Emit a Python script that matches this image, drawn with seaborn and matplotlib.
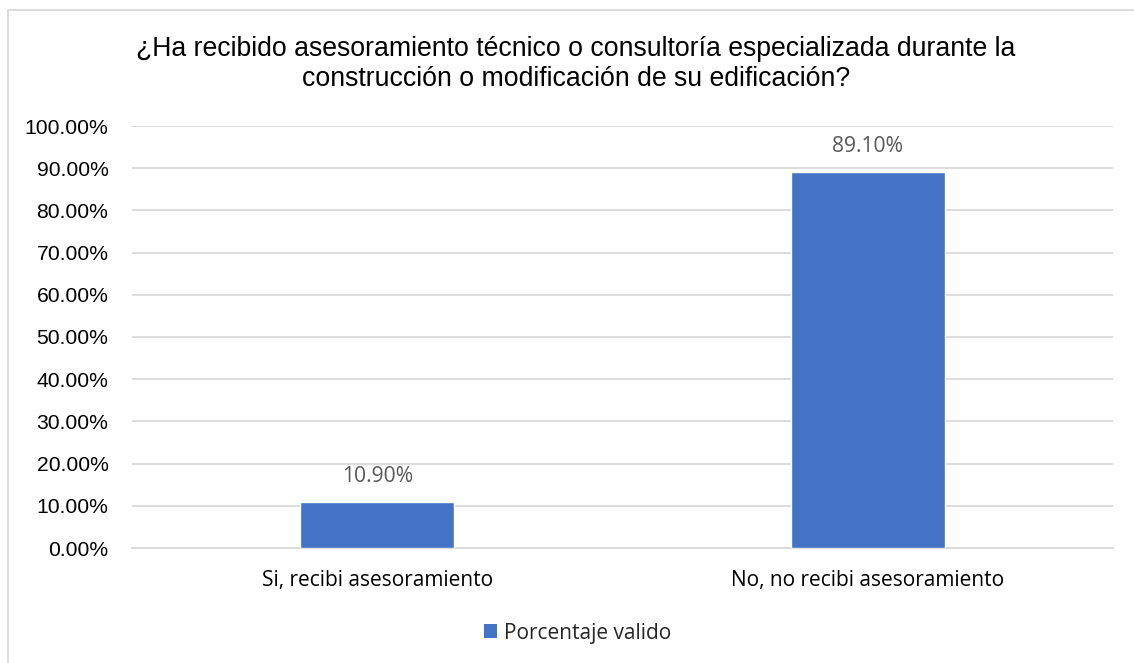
import matplotlib
matplotlib.use("Agg")
import matplotlib.pyplot as plt
import matplotlib.lines as mlines
from matplotlib.patches import Patch
from matplotlib.ticker import PercentFormatter, MultipleLocator
import pandas as pd
import seaborn as sns

categories = ["Si, recibi asesoramiento", "No, no recibi asesoramiento"]
values = [10.90, 89.10]
series_name = "Porcentaje valido"
title = ("¿Ha recibido asesoramiento técnico o consultoría especializada durante la\n"
         "construcción o modificación de su edificación?")

bar_color = "#4472C4"
grid_color = "#D9D9D9"
label_color = "#595959"

sns.set_theme(style="white")
plt.rcParams["font.family"] = ["Liberation Sans", "DejaVu Sans"]

df = pd.DataFrame({"categoria": categories, "valor": values})

fig = plt.figure(figsize=(11.34, 6.63), dpi=100)
ax = fig.add_axes([132 / 1134, 1 - 548 / 663, (1113 - 132) / 1134, (548 - 126) / 663])

sns.barplot(data=df, x="categoria", y="valor", color=bar_color, width=0.313,
            saturation=1, ax=ax, zorder=3)

ax.set_ylim(0, 100)
ax.yaxis.set_major_locator(MultipleLocator(10))
ax.yaxis.set_major_formatter(PercentFormatter(decimals=2))
ax.grid(axis="y", color=grid_color, linewidth=1.3, zorder=0)
ax.set_axisbelow(True)
for s in ["top", "right", "left"]:
    ax.spines[s].set_visible(False)
ax.spines["bottom"].set_color(grid_color)
ax.spines["bottom"].set_linewidth(1.3)
ax.set_xlabel("")
ax.set_ylabel("")
ax.tick_params(axis="y", length=0, pad=17, labelsize=15.2, labelcolor="black")
ax.tick_params(axis="x", length=0, pad=16)
for t in ax.get_xticklabels():
    t.set_fontfamily(["Open Sans", "DejaVu Sans"])
    t.set_fontsize(15)
    t.set_color("#000000")

for cont in ax.containers:
    ax.bar_label(cont, labels=[f"{v:.2f}%" for v in values], padding=11,
                 fontsize=15.2, color=label_color, family=["Open Sans", "DejaVu Sans"])

fig.text(576 / 1134, 1 - 64 / 663, title, ha="center", va="center",
         fontsize=19.2, color="black", linespacing=1.22)

handle = Patch(facecolor=bar_color, edgecolor="none")
fig.legend([handle], [series_name], loc="center", bbox_to_anchor=(578 / 1134, 1 - 633 / 663),
           frameon=False, handlelength=0.62, handleheight=0.62, handletextpad=0.35,
           prop={"family": ["Open Sans", "DejaVu Sans"], "size": 15})

# chart border (left and top edges)
border_color = "#D9D9D9"
fig.add_artist(mlines.Line2D([8 / 1134, 8 / 1134], [0, 1 - 10 / 663], color=border_color,
                             linewidth=1.3, transform=fig.transFigure))
fig.add_artist(mlines.Line2D([8 / 1134, 1], [1 - 10 / 663, 1 - 10 / 663], color=border_color,
                             linewidth=1.3, transform=fig.transFigure))

fig.savefig("out.png", dpi=100)
